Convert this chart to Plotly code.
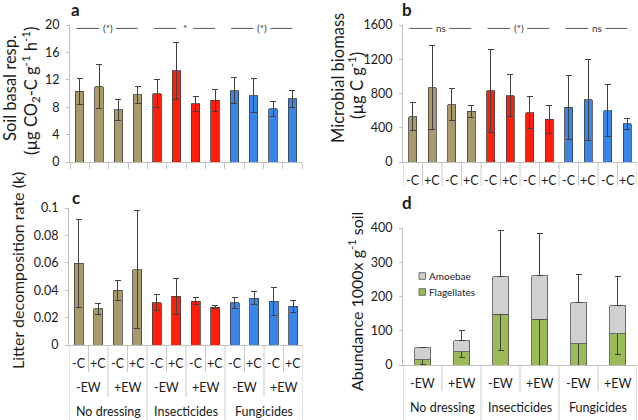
import plotly.graph_objects as go

W, H = 638, 420

# ---------------- data ----------------
groups = ["No dressing", "Insecticides", "Fungicides"]
ew_labels = ["-EW", "+EW"]
c_labels = ["-C", "+C"]
group_colors = ["#A89A6B", "#FF1F0A", "#3A86E8"]

resp = [10.3, 11.0, 7.6, 9.8, 10.0, 13.3, 8.5, 9.0, 10.4, 9.7, 7.8, 9.2]
resp_err = [1.9, 3.2, 1.5, 1.2, 2.0, 4.2, 1.1, 1.6, 1.9, 2.5, 1.1, 1.3]
sig_a = ["(*)", "*", "(*)"]

biomass = [530, 870, 670, 590, 830, 775, 575, 500, 640, 725, 600, 445]
biomass_err = [165, 490, 185, 72, 485, 242, 185, 165, 373, 476, 302, 68]
sig_b = ["ns", "(*)", "ns"]

litter = [0.0595, 0.0263, 0.0400, 0.0550, 0.0307, 0.0355, 0.0321, 0.0277,
          0.0307, 0.0343, 0.0319, 0.0282]
litter_err = [0.032, 0.004, 0.0074, 0.043, 0.0058, 0.013, 0.0028, 0.0012,
              0.004, 0.005, 0.010, 0.0044]

flagellates = [15.6, 38, 148, 134, 62, 91]
amoebae = [34.4, 33.4, 110, 127, 120, 82]
amoebae_err = [1, 28, 134, 124, 83, 86]
flagellates_err = [14, 15, 107, 134, 62, 59]
protist_names = ["Amoebae", "Flagellates"]
protist_colors = ["#D0D0D0", "#9BBB59"]

FONT = "Lato"
TXT = "#1a1a1a"
AX = "#BFBFBF"
SEP = "#C8C8C8"
ERR = "#404040"


def px(x):
    return x / W


def py(y):
    return 1 - y / H


n12 = list(range(12))
bar_colors12 = [group_colors[i // 4] for i in n12]
n6 = list(range(6))

fig = go.Figure()

err_style = dict(type="data", color=ERR, thickness=1, width=3)
outline = dict(color="#404040", width=0.8)

fig.add_trace(go.Bar(x=n12, y=resp, width=0.44, marker=dict(color=bar_colors12, line=outline),
                     error_y=dict(array=resp_err, **err_style), xaxis="x", yaxis="y", showlegend=False))
fig.add_trace(go.Bar(x=n12, y=biomass, width=0.42, marker=dict(color=bar_colors12, line=outline),
                     error_y=dict(array=biomass_err, **err_style), xaxis="x2", yaxis="y2", showlegend=False))
fig.add_trace(go.Bar(x=n12, y=litter, width=0.44, marker=dict(color=bar_colors12, line=outline),
                     error_y=dict(array=litter_err, **err_style), xaxis="x3", yaxis="y3", showlegend=False))
fig.add_trace(go.Bar(x=n6, y=flagellates, width=0.41, name=protist_names[1],
                     marker=dict(color=protist_colors[1], line=dict(color="#505050", width=0.8)),
                     error_y=dict(symmetric=False, array=[0] * 6, arrayminus=flagellates_err, **err_style),
                     xaxis="x4", yaxis="y4", showlegend=False))
fig.add_trace(go.Bar(x=n6, y=amoebae, width=0.41, name=protist_names[0],
                     marker=dict(color=protist_colors[0], line=dict(color="#505050", width=0.8)),
                     error_y=dict(symmetric=False, array=amoebae_err, arrayminus=[0] * 6, **err_style),
                     xaxis="x4", yaxis="y4", showlegend=False))

# ---------------- axes ----------------
tickfont = dict(family=FONT, size=12.5, color=TXT)


def xax(dom, anchor, n):
    return dict(domain=dom, anchor=anchor, range=[-0.5, n - 0.5], showticklabels=False,
                showline=True, linecolor=AX, linewidth=1, ticks="", showgrid=False, zeroline=False,
                fixedrange=True, automargin=False)


def yax(dom, anchor, rng, dtick):
    return dict(domain=dom, anchor=anchor, range=rng, dtick=dtick, showline=True, linecolor=AX, linewidth=1,
                ticks="outside", ticklen=3, tickcolor=AX, showgrid=False, zeroline=False, tickfont=tickfont,
                ticklabelstandoff=4, fixedrange=True, automargin=False)


ya_dom = [py(162), py(25)]
yc_dom = [py(345), py(208)]
yd_dom = [py(365), py(228)]
xa_dom = [px(70), px(302)]
xb_dom = [px(403), px(637)]
xc_dom = [px(69), px(303)]
xd_dom = [px(403), px(637)]

fig.update_layout(
    template="none",
    width=W, height=H, margin=dict(l=0, r=0, t=0, b=0, pad=0, autoexpand=False),
    paper_bgcolor="white", plot_bgcolor="white", barmode="stack", showlegend=False,
    xaxis=dict(xax(xa_dom, "y", 12), ticks="outside", ticklen=6, tickcolor=SEP,
               tickvals=[i - 0.5 for i in range(13)]),
    yaxis=yax(ya_dom, "x", [0, 20], 4),
    xaxis2=xax(xb_dom, "y2", 12),
    yaxis2=yax(ya_dom, "x2", [0, 1600], 400),
    xaxis3=xax(xc_dom, "y3", 12),
    yaxis3=yax(yc_dom, "x3", [0, 0.1], 0.02),
    xaxis4=xax(xd_dom, "y4", 6),
    yaxis4=yax(yd_dom, "x4", [0, 400], 100),
)

shapes = []
ann = []


def label(x, y, text, xref="paper", yref="paper", size=12.5, color=TXT, xanchor="center", **kw):
    ann.append(dict(x=x, y=y, xref=xref, yref=yref, text=text, showarrow=False,
                    xanchor=xanchor, yanchor="middle",
                    font=dict(family=FONT, size=size, color=color), **kw))


def vline(xref, x, y0, y1):
    shapes.append(dict(type="line", xref=xref, yref="paper", x0=x, x1=x, y0=y0, y1=y1,
                       line=dict(color=SEP, width=1)))


# panel b category labels and separators
for i in range(13):
    vline("x2", i - 0.5, py(162), py(186))
for i in n12:
    label(i, py(180), c_labels[i % 2], xref="x2")

# panel c hierarchical labels
for i in range(13):
    if i % 4 == 0:
        end = H
    elif i % 2 == 0:
        end = 397
    else:
        end = 372
    vline("x3", i - 0.5, py(345), py(end))
for i in n12:
    label(i, py(363), c_labels[i % 2], xref="x3")
for j in range(6):
    label(2 * j + 0.5, py(387), ew_labels[j % 2], xref="x3")
for g in range(3):
    label(4 * g + 1.5, py(411), groups[g], xref="x3")

# panel d labels
for i in range(7):
    vline("x4", i - 0.5, py(365), py(H if i % 2 == 0 else 391))
for j in n6:
    label(j, py(383), ew_labels[j % 2], xref="x4")
for g in range(3):
    label(2 * g + 0.5, py(407), groups[g], xref="x4")

# significance lines
SIG = "#595959"


def sig_row(xref, yref, yval, texts):
    for g, t in enumerate(texts):
        for a, b in [(4 * g - 0.17, 4 * g + 1.0), (4 * g + 1.87, 4 * g + 3.0)]:
            shapes.append(dict(type="line", xref=xref, yref=yref, x0=a, x1=b, y0=yval, y1=yval,
                               line=dict(color=SIG, width=1)))
        label(4 * g + 1.44, yval, t, xref=xref, yref=yref, size=10, color="#333333")


sig_row("x", "y", 19.5, sig_a)
sig_row("x2", "y2", 1560, sig_b)

# legend for panel d (drawn manually)
leg_rows = [(276, 0), (292, 1)]
for yy, k in leg_rows:
    shapes.append(dict(type="rect", xref="paper", yref="paper", x0=px(419), x1=px(425.5), y0=py(yy + 3.3),
                       y1=py(yy - 3.3), fillcolor=protist_colors[k], line=dict(color="#505050", width=0.8)))
    label(px(427), py(yy), protist_names[k], size=10, xanchor="left")

# axis titles
label(px(10), py(88), "Soil basal resp.", size=16.5, textangle=-90)
label(px(30), py(91), "(µg CO<sub>2</sub>-C g<sup>-1</sup> h<sup>-1</sup>)", size=16.5, textangle=-90)
label(px(338), py(78), "Microbial biomass", size=16.5, textangle=-90)
label(px(356), py(86), "(µg C g<sup>-1</sup>)", size=16.5, textangle=-90)
label(px(17), py(271), "Litter decomposition rate (k)", size=16, textangle=-90)
label(px(355), py(302), "Abundance 1000x g<sup>-1</sup> soil", size=16, textangle=-90)

# panel letters
for t, x, y in [("a", 75, 9.5), ("b", 407, 9.5), ("c", 76, 197), ("d", 407, 202)]:
    label(px(x), py(y), "<b>" + t + "</b>", size=17)

fig.update_layout(shapes=shapes, annotations=ann)
fig.write_html("out.html", config={"displayModeBar": False},
               post_script="document.body.style.margin='0';document.body.style.overflow='hidden';")
